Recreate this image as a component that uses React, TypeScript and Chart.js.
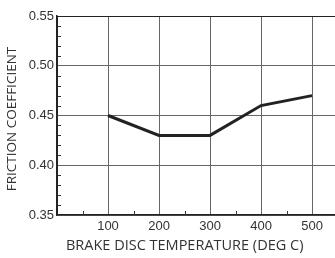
import React, { useEffect, useRef } from "react";
import { Chart, registerables } from "chart.js";

Chart.register(...registerables);

const temperatures = [100, 200, 300, 400, 500];
const friction = [0.45, 0.43, 0.43, 0.46, 0.47];
const xTickValues = [0, 100, 200, 300, 400, 500];
const yTickValues = [0.35, 0.4, 0.45, 0.5, 0.55];
const xMinorTicks = [50, 150, 250, 350, 450];
const yMinorTicks = [0.36, 0.37, 0.38, 0.39, 0.41, 0.42, 0.43, 0.44, 0.46, 0.47, 0.48, 0.49, 0.51, 0.52, 0.53, 0.54];
const xTitle = "BRAKE DISC TEMPERATURE (DEG C)";
const yTitle = "FRICTION COEFFICIENT";

const minorTickPlugin = {
  id: "minorTicks",
  afterDraw(chart: any) {
    const { ctx, chartArea, scales } = chart;
    ctx.save();
    ctx.strokeStyle = "#333";
    ctx.lineWidth = 1;
    ctx.beginPath();
    xMinorTicks.forEach((v) => {
      const x = Math.round(scales.x.getPixelForValue(v)) + 0.5;
      ctx.moveTo(x, chartArea.bottom);
      ctx.lineTo(x, chartArea.bottom - 4);
    });
    yMinorTicks.forEach((v) => {
      const y = Math.round(scales.y.getPixelForValue(v)) + 0.5;
      ctx.moveTo(chartArea.left, y);
      ctx.lineTo(chartArea.left + 4, y);
    });
    ctx.stroke();
    ctx.restore();
  },
};

const pad = (n: number) => "\u00a0".repeat(n);

export default function App() {
  const ref = useRef<HTMLCanvasElement>(null);
  useEffect(() => {
    document.body.style.margin = "0";
    const chart = new Chart(ref.current!, {
      type: "line",
      data: {
        datasets: [
          {
            data: temperatures.map((t, i) => ({ x: t, y: friction[i] })),
            borderColor: "#222",
            borderWidth: 3,
            pointRadius: 0,
            fill: false,
            tension: 0,
          },
        ],
      },
      options: {
        animation: false,
        responsive: true,
        maintainAspectRatio: false,
        layout: { padding: { top: 16, right: 0, left: 0, bottom: 0 } },
        plugins: { legend: { display: false }, tooltip: { enabled: false } },
        scales: {
          x: {
            type: "linear",
            min: 0,
            max: 545,
            afterBuildTicks: (s: any) => {
              s.ticks = xTickValues.map((v) => ({ value: v }));
            },
            afterFit: (s: any) => {
              s.height = 43;
              s.paddingLeft = 0;
              s.paddingRight = 0;
            },
            ticks: {
              callback: (v: any) => (v === 0 ? "" : String(v)),
              color: "#333",
              font: { family: "'Liberation Sans', Arial, sans-serif", size: 13 },
              padding: 4,
              maxRotation: 0,
              autoSkip: false,
            },
            grid: {
              color: (c: any) => (c.tick && c.tick.value === 0 ? "#222" : "#666"),
              lineWidth: 1,
              drawTicks: false,
            },
            border: { color: "#222", width: 1.5 },
            title: {
              display: true,
              text: xTitle + pad(6),
              color: "#333",
              font: { family: "'Open Sans', sans-serif", size: 14.5 },
              padding: { top: 2, bottom: 3 },
            },
          },
          y: {
            type: "linear",
            min: 0.35,
            max: 0.55,
            afterBuildTicks: (s: any) => {
              s.ticks = yTickValues.map((v) => ({ value: v }));
            },
            afterFit: (s: any) => {
              s.width = 57;
            },
            ticks: {
              callback: (v: any) => Number(v).toFixed(2),
              color: "#333",
              font: { family: "'Liberation Sans', Arial, sans-serif", size: 13 },
              padding: 3,
              autoSkip: false,
            },
            grid: {
              color: (c: any) => (c.tick && c.tick.value >= 0.549 ? "#222" : "#666"),
              lineWidth: 1,
              drawTicks: false,
            },
            border: { color: "#222", width: 1.5 },
            title: {
              display: true,
              text: yTitle + pad(2),
              color: "#333",
              font: { family: "'Open Sans', sans-serif", size: 13.5 },
              padding: { top: 4, bottom: 4 },
            },
          },
        },
      },
      plugins: [minorTickPlugin],
    });
    return () => chart.destroy();
  }, []);
  return (
    <div style={{ position: "relative", width: 335, height: 258 }}>
      <canvas ref={ref} />
    </div>
  );
}
